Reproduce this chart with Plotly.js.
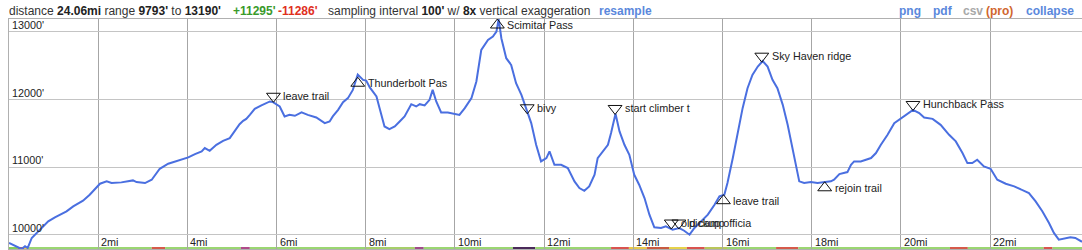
<!DOCTYPE html>
<html>
<head>
<meta charset="utf-8">
<script src="https://cdn.plot.ly/plotly-3.0.1.min.js"></script>
<style>
  html, body { margin:0; padding:0; width:1082px; height:250px; overflow:hidden; background:#fff; }
  #chart { position:absolute; left:0; top:0; width:1082px; height:250px; }
  #hdr { position:absolute; left:0; top:0; width:1082px; height:19px; z-index:5;
         font-family:"Liberation Sans", Arial, sans-serif; font-size:12px; color:#333; }
  #hdr span { position:absolute; top:4px; white-space:nowrap; }
  #hdr b { color:#222; }
  .g b { color:#3a9a2a !important; }
  .r b { color:#e0301e !important; }
  .lnk { color:#5a88dc; font-weight:bold; }
  .gry { color:#a8a8a8; font-weight:bold; }
  .pro { color:#d0662e; font-weight:bold; }
</style>
</head>
<body>
<div id="hdr">
  <span style="left:9px">distance <b>24.06mi</b> range <b>9793'</b> to <b>13190'</b></span>
  <span class="g" style="left:233px"><b>+11295'</b></span>
  <span class="r" style="left:278px"><b>-11286'</b></span>
  <span style="left:328px">sampling interval <b>100'</b> w/ <b>8x</b> vertical exaggeration</span>
  <span class="lnk" style="left:599px">resample</span>
  <span class="lnk" style="left:899px">png</span>
  <span class="lnk" style="left:933px">pdf</span>
  <span class="gry" style="left:963px">csv</span>
  <span class="pro" style="left:986px">(pro)</span>
  <span class="lnk" style="left:1026px">collapse</span>
</div>
<div id="chart"></div>
<script>
// ---- profile data (distance in miles, elevation in feet) ----
const distMi = [0.00,0.13,0.28,0.36,0.42,0.51,0.66,0.88,1.03,1.14,1.29,1.44,1.66,1.81,2.04,2.19,2.30,2.52,2.67,2.78,2.86,3.05,3.20,3.38,3.57,3.79,4.02,4.17,4.32,4.39,4.50,4.65,4.80,4.95,5.06,5.17,5.25,5.32,5.40,5.51,5.66,5.85,5.92,6.07,6.18,6.29,6.41,6.56,6.70,6.89,7.08,7.19,7.26,7.38,7.49,7.60,7.71,7.82,7.94,8.01,8.09,8.24,8.31,8.42,8.53,8.65,8.76,8.87,9.02,9.13,9.21,9.32,9.43,9.50,9.58,9.69,9.84,9.99,10.10,10.22,10.37,10.48,10.59,10.74,10.85,10.93,10.98,11.04,11.15,11.26,11.37,11.49,11.60,11.71,11.82,11.93,12.05,12.12,12.23,12.38,12.53,12.68,12.79,12.90,13.01,13.13,13.20,13.31,13.43,13.50,13.60,13.69,13.80,13.91,14.02,14.13,14.25,14.36,14.47,14.62,14.73,14.88,15.03,15.14,15.26,15.37,15.52,15.67,15.82,15.93,16.04,16.11,16.23,16.34,16.45,16.56,16.67,16.79,16.90,17.01,17.12,17.23,17.35,17.46,17.57,17.65,17.72,17.83,17.98,18.13,18.28,18.43,18.50,18.62,18.80,18.88,18.95,19.10,19.33,19.44,19.55,19.70,19.85,20.00,20.11,20.27,20.41,20.52,20.71,20.89,21.08,21.23,21.38,21.49,21.60,21.71,21.86,22.01,22.16,22.35,22.54,22.69,22.87,23.02,23.17,23.32,23.43,23.54,23.69,23.80,23.91,24.03,24.06];
const elevFt = [9882,9842,9793,9833,9808,9956,10054,10202,10261,10300,10349,10423,10506,10595,10757,10792,10767,10777,10792,10806,10782,10767,10816,10978,11052,11096,11146,11195,11235,11283,11243,11332,11391,11431,11530,11637,11686,11715,11774,11863,11913,11972,11962,11898,11751,11774,11760,11810,11774,11736,11652,11677,11751,11848,11962,12021,12143,12370,12291,12280,12180,12046,11873,11603,11564,11603,11677,11751,11932,11898,11932,11913,11996,12143,11972,11810,11810,11785,11774,11873,12021,12267,12733,12880,12930,13003,13190,12906,12611,12512,12242,12069,11848,11652,11332,11087,11136,11235,11037,11037,10988,10792,10693,10653,10718,10889,11136,11235,11332,11505,11790,11530,11332,11184,10889,10742,10546,10300,10113,10103,10128,10078,10103,10063,10004,10103,10202,10300,10447,10570,10595,10767,11136,11530,11873,12168,12365,12488,12570,12488,12291,12168,11922,11627,11283,11037,10792,10767,10782,10767,10777,10792,10816,10900,10929,11037,11087,11087,11136,11210,11332,11480,11652,11725,11774,11848,11800,11736,11715,11627,11480,11382,11210,11062,11062,11111,11013,10978,10816,10757,10718,10668,10620,10497,10350,10177,10030,9931,9945,9966,9956,9907,9900];

// ---- waypoints ----
const wpNames = ["leave trail","Thunderbolt Pas","Scimitar Pass","bivy","start climber t","old camp","pickup officia","leave trail","Sky Haven ridge","rejoin trail","Hunchback Pass"];
const wpMi    = [5.93, 7.82, 10.95, 11.62, 13.59, 14.85, 15.02, 16.02, 16.88, 18.29, 20.27];
const wpFt    = [11960, 12330, 13190, 11790, 11780, 10088, 10088, 10595, 12552, 10786, 11839];
const wpDir   = ["down","up","up","down","down","down","down","up","down","up","down"];

// ---- axis ticks ----
const xTickVals = [2,4,6,8,10,12,14,16,18,20,22];
const xTickText = ["2mi","4mi","6mi","8mi","10mi","12mi","14mi","16mi","18mi","20mi","22mi"];
const yTickVals = [10000,11000,12000,13000];
const yTickText = ["10000'","11000'","12000'","13000'"];

// ---- ground colour strip along the route (start mi, end mi, colour) ----
const stripStart = [0.0, 0.2, 0.35, 0.45, 3.2, 3.5, 5.2, 5.4, 8.0, 9.1, 9.3, 11.3, 11.8, 13.5, 13.9, 14.3, 14.8, 15.2, 15.6, 16.1, 17.2, 17.7, 21.1, 21.5, 23.2, 23.4];
const stripEnd   = [0.2, 0.35, 0.45, 3.2, 3.5, 5.2, 5.4, 8.0, 9.1, 9.3, 11.3, 11.8, 13.5, 13.9, 14.3, 14.8, 15.2, 15.6, 16.1, 17.2, 17.7, 21.1, 21.5, 23.2, 23.4, 24.06];
const stripColor = ["#86cf5a","#d9534f","#e6d24a","#9bd672","#d65a4a","#9bd672","#b04a8a","#9bd672","#a6cf6a","#a04a8a","#9bd672","#4a2a5a","#9bd672","#d9534f","#e6c84a","#c85a40","#e6d24a","#d9534f","#b9c65a","#9bd672","#d65a4a","#9bd672","#d65a4a","#9bd672","#d9534f","#9bd672"];

const yMin = 9793, yMax = 13190;
const W = 1082, H = 250;
const margin = {l: 9, r: 0, t: 19, b: 1};
const plotH = H - margin.t - margin.b;
const ftPerPx = (yMax - yMin) / plotH;
const markerOffsetPx = 6;

const font = "Liberation Sans, Arial, sans-serif";
const fs = 10.8;

const wpY = wpFt.map((v, i) => v + (wpDir[i] === "down" ? 1 : -1) * markerOffsetPx * ftPerPx);
const wpSym = wpDir.map(d => d === "down" ? "triangle-down-open" : "triangle-up-open");

const traces = [
  {
    x: distMi, y: elevFt, type: "scatter", mode: "lines",
    line: {color: "#4a6fe0", width: 2}, hoverinfo: "skip", cliponaxis: false
  },
  {
    x: wpMi, y: wpY, type: "scatter", mode: "markers",
    marker: {symbol: wpSym, size: 12, color: "#111", line: {color: "#111", width: 1}},
    hoverinfo: "skip", cliponaxis: false
  }
];

const annotations = [];
wpNames.forEach((n, i) => annotations.push({
  x: wpMi[i], xref: "x", y: wpY[i], yref: "y", text: n, showarrow: false,
  xanchor: "left", yanchor: "middle", xshift: 8, yshift: 0,
  font: {family: font, size: fs, color: "#222"}
}));
xTickVals.forEach((v, i) => annotations.push({
  x: v, xref: "x", y: 0, yref: "paper", text: xTickText[i], showarrow: false,
  xanchor: "left", yanchor: "middle", xshift: 1, yshift: 7,
  font: {family: font, size: fs, color: "#222"}
}));
yTickVals.forEach((v, i) => annotations.push({
  x: 0, xref: "paper", y: v, yref: "y", text: yTickText[i], showarrow: false,
  xanchor: "left", yanchor: "middle", xshift: 1, yshift: 7,
  font: {family: font, size: fs, color: "#222"}
}));

const shapes = stripStart.map((s, i) => ({
  type: "rect", xref: "x", yref: "paper", x0: s, x1: stripEnd[i],
  y0: -1 / plotH, y1: 2 / plotH, fillcolor: stripColor[i], line: {width: 0}, layer: "below"
}));

const layout = {
  width: W, height: H, margin: margin,
  paper_bgcolor: "#fff", plot_bgcolor: "#fff",
  showlegend: false,
  xaxis: {
    range: [0, 24.06], tickvals: xTickVals, showticklabels: false, ticks: "",
    showgrid: true, gridcolor: "#a6a6a6", gridwidth: 1, zeroline: false,
    showline: true, linecolor: "#b0b0b0", linewidth: 1, mirror: true, fixedrange: true
  },
  yaxis: {
    range: [yMin, yMax], tickvals: yTickVals, showticklabels: false, ticks: "",
    showgrid: true, gridcolor: "#c4c4c4", gridwidth: 1, zeroline: false,
    showline: true, linecolor: "#b0b0b0", linewidth: 1, mirror: true, fixedrange: true
  },
  annotations: annotations,
  shapes: shapes
};

Plotly.newPlot("chart", traces, layout, {displayModeBar: false, staticPlot: true});
</script>
</body>
</html>
